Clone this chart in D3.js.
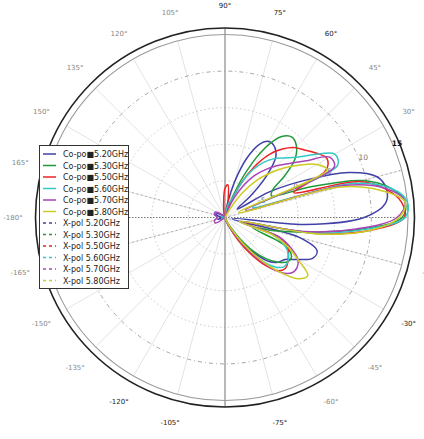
<!DOCTYPE html>
<html><head><meta charset="utf-8">
<script src="https://cdn.jsdelivr.net/npm/d3@7"></script>
<style>body{margin:0;background:#fff}svg{display:block}</style>
</head><body>
<svg id="chart" width="424" height="439"></svg>
<script>
// ---- data ----
const angles = [-180,-165,-150,-135,-120,-105,
  -90,-85,-80,-75,-70,-65,-60,-55,-50,-45,-40,-35,-30,-25,-20,-15,-10,-5,
  0,5,10,15,20,25,30,35,40,45,50,55,60,65,70,75,80,85,90,
  105,120,135,150,165];
const seriesNames = ["Co-pol 5.20GHz","Co-pol 5.30GHz","Co-pol 5.50GHz","Co-pol 5.60GHz","Co-pol 5.70GHz","Co-pol 5.80GHz",
  "X-pol 5.20GHz","X-pol 5.30GHz","X-pol 5.50GHz","X-pol 5.60GHz","X-pol 5.70GHz","X-pol 5.80GHz"];
const freqLabels = ["5.20GHz","5.30GHz","5.50GHz","5.60GHz","5.70GHz","5.80GHz"];
const coPol520 = [-9.5,-9,-10.5,-11,-11,-11,
  -11,-11,-10.5,-10,-9.5,-8.5,-7,-5.5,-3.5,-1.5,-0.5,0,1.5,3.2,3.4,0.5,-9,1,
  9,12,12.4,11.5,8,2,-3,-8,-5.5,-2,0.8,1.8,2,1,-1.5,-5,-8,-9.5,-10,
  -10.5,-10.5,-10,-9,-8.5];
const coPol530 = [-10,-10.5,-11,-11,-11,-11,
  -11,-11,-11,-10.5,-10,-9.5,-8.5,-6.5,-4,-2,-0.5,0.5,0.5,-1,-6,-3,1.5,8.5,
  14.2,14.7,13,9.5,2,-3,-2.5,0,2.5,3.8,4.3,3.5,1,-3,-7,-9.5,-10.5,-11,-11,
  -11,-11,-10.5,-10,-9.5];
const coPol550 = [-10,-10,-10.5,-11,-11,-11,
  -11,-11,-10.5,-10,-9.5,-8.5,-6.5,-4,-1.5,0.3,0.8,0.5,0,-0.5,-2,-7,2.5,10,
  14.5,14.2,12.3,9,0,5.2,6.1,5.3,4.3,3.5,2.2,0.5,-2,-5,-8,-9,-7.5,-5.5,-6,
  -9.5,-10.5,-11,-10.5,-10];
const coPol560 = [-10,-9.5,-10,-11,-11,-11,
  -11,-11,-11,-10.5,-10,-9,-7.5,-5,-2.5,-0.5,0.5,0.5,0,-1,-3,-8,2,9,
  14.6,15.1,13,8,-6,7,7.3,5,2.8,1.5,0.5,-0.8,-2.5,-5,-7.5,-8,-9,-10,-10.5,
  -11,-11,-10.5,-10,-9.5];
const coPol570 = [-9,-8.5,-8.5,-10,-11,-11,
  -11,-11,-11,-10.5,-10,-9,-7.5,-5,-2,0.5,1.8,2,1.5,0,-2,-8,1,8,
  13.5,14.7,12.5,7,-7,6.5,6.5,3.5,1.5,0,-1.5,-3,-5,-7,-9,-10,-10.5,-11,-11,
  -11,-10.5,-9.5,-8.5,-8.5];
const coPol580 = [-10,-10,-10.5,-11,-11,-11,
  -11,-11,-11,-10.5,-10,-9.5,-8,-5.5,-2.5,0.5,3,3.8,1.5,-0.5,-3,-8,3,10,
  13.8,14.7,11.5,6,-8,5.4,4.5,2.5,0.5,-1.5,-3.5,-6,-9,-10,-10.5,-11,-11,-11,-11,
  -11,-11,-10.5,-10,-10];
const xPol520 = angles.map(() => -14);
const xPol530 = angles.map(() => -14);
const xPol550 = angles.map(() => -14);
const xPol560 = angles.map(() => -14);
const xPol570 = angles.map(() => -14);
const xPol580 = angles.map(() => -14);
const rTicks = [-5, 0, 5, 10, 15];
const angleTicks = [90,105,120,135,150,165,180,-165,-150,-135,-120,-105,-75,-60,-45,-30,-15,15,30,45,60,75];
const angleTickLabels = ["90°","105°","120°","135°","150°","165°","-180°","-165°","-150°","-135°","-120°","-105°","-75°","-60°","-45°","-30°","-15°","15°","30°","45°","60°","75°"];
const darkAngleLabels = [90,75,60,-120,-105,-75,-30];

// ---- drawing ----
const colors = ["#4040a8","#22993a","#ee2222","#33c8c8","#a844b8","#cccc22"];
const coPol = [coPol520,coPol530,coPol550,coPol560,coPol570,coPol580];
const xPol = [xPol520,xPol530,xPol550,xPol560,xPol570,xPol580];

const svg = d3.select("#chart");
const cx = 225, cy = 217.5, R = 183, Rout = 189.5;
const r = d3.scaleLinear().domain([-10, 15]).range([0, R]).clamp(true);
const rad = a => a * Math.PI / 180;
const g = svg.append("g").attr("transform", `translate(${cx},${cy})`);
const px = (a, rr) => [rr * Math.cos(rad(a)), -rr * Math.sin(rad(a))];

// spokes
d3.range(-180, 180, 15).forEach(a => {
  if (a === 90 || a === -90 || a === 0 || a === -180) return;
  const [x, y] = px(a, R);
  g.append("line").attr("x1",0).attr("y1",0).attr("x2",x).attr("y2",y)
    .attr("stroke","#dcdcdc").attr("stroke-width",0.8);
});
// rings
rTicks.slice(0,-1).forEach(v => {
  g.append("circle").attr("r", r(v)).attr("fill","none")
    .attr("stroke", v === 10 ? "#999" : "#bdbdbd")
    .attr("stroke-width", v === 10 ? 0.9 : 0.8)
    .attr("stroke-dasharray", v === 10 ? "4,3,1,3" : "1.5,2.5");
});
// dotted radial lines
[15,-15,165,-165].forEach(a => {
  const [x, y] = px(a, R);
  g.append("line").attr("x1",0).attr("y1",0).attr("x2",x).attr("y2",y)
    .attr("stroke","#999").attr("stroke-width",0.9).attr("stroke-dasharray","1.5,3");
});
g.append("line").attr("x1",-R).attr("y1",0).attr("x2",R).attr("y2",0)
  .attr("stroke","#777").attr("stroke-width",1).attr("stroke-dasharray","1.5,1.5");
// vertical axis
g.append("line").attr("x1",0).attr("y1",-Rout).attr("x2",0).attr("y2",Rout)
  .attr("stroke","#9a9a9a").attr("stroke-width",1.4);
// circles
g.append("circle").attr("r", R).attr("fill","none").attr("stroke","#9a9a9a").attr("stroke-width",1.1);
g.append("circle").attr("r", Rout).attr("fill","none").attr("stroke","#222").attr("stroke-width",1.6);

// radial tick labels
rTicks.forEach(v => {
  const [x, y] = px(22.5, r(v));
  g.append("text").attr("x", x + 3).attr("y", y - 1).attr("text-anchor","middle")
    .attr("font-family","DejaVu Sans").attr("font-size", 7.5)
    .attr("fill", v === 15 ? "#111" : "#777").attr("font-weight", v === 15 ? "bold" : "normal")
    .text(v);
});
// angle labels
angleTicks.forEach((a, i) => {
  const [x, y] = px(a, 212);
  g.append("text").attr("x", x).attr("y", y + 2.5).attr("text-anchor","middle")
    .attr("font-family","DejaVu Sans").attr("font-size", 7)
    .attr("fill", darkAngleLabels.includes(a) ? "#222" : "#888")
    .text(angleTickLabels[i]);
});

// pattern lines
const line = d3.lineRadial()
  .angle(d => rad(90 - d[0]))
  .radius(d => r(d[1]))
  .curve(d3.curveCatmullRomClosed.alpha(0.5));
xPol.forEach((vals, i) => {
  g.append("path").datum(angles.map((a, k) => [a, vals[k]]))
    .attr("d", line).attr("fill","none").attr("stroke", colors[i])
    .attr("stroke-width",1.3).attr("stroke-dasharray","3,2");
});
coPol.forEach((vals, i) => {
  g.append("path").datum(angles.map((a, k) => [a, vals[k]]))
    .attr("d", line).attr("fill","none").attr("stroke", colors[i])
    .attr("stroke-width",1.5).attr("stroke-linejoin","round");
});

// legend
const lg = svg.append("g");
lg.append("rect").attr("x",39.5).attr("y",145.5).attr("width",89).attr("height",143)
  .attr("fill","#fff").attr("stroke","#333").attr("stroke-width",1);
seriesNames.forEach((name, i) => {
  const y = 154 + i * 11.5;
  const c = colors[i % 6];
  lg.append("line").attr("x1",43).attr("x2",56).attr("y1",y).attr("y2",y)
    .attr("stroke", c).attr("stroke-width",1.5)
    .attr("stroke-dasharray", i < 6 ? null : "3,3");
  lg.append("text").attr("x",63).attr("y",y + 3)
    .attr("font-family","DejaVu Sans").attr("font-size",8).attr("fill","#222")
    .text(i < 6 ? "Co-po■" + freqLabels[i] : name);
});
</script>
</body></html>
